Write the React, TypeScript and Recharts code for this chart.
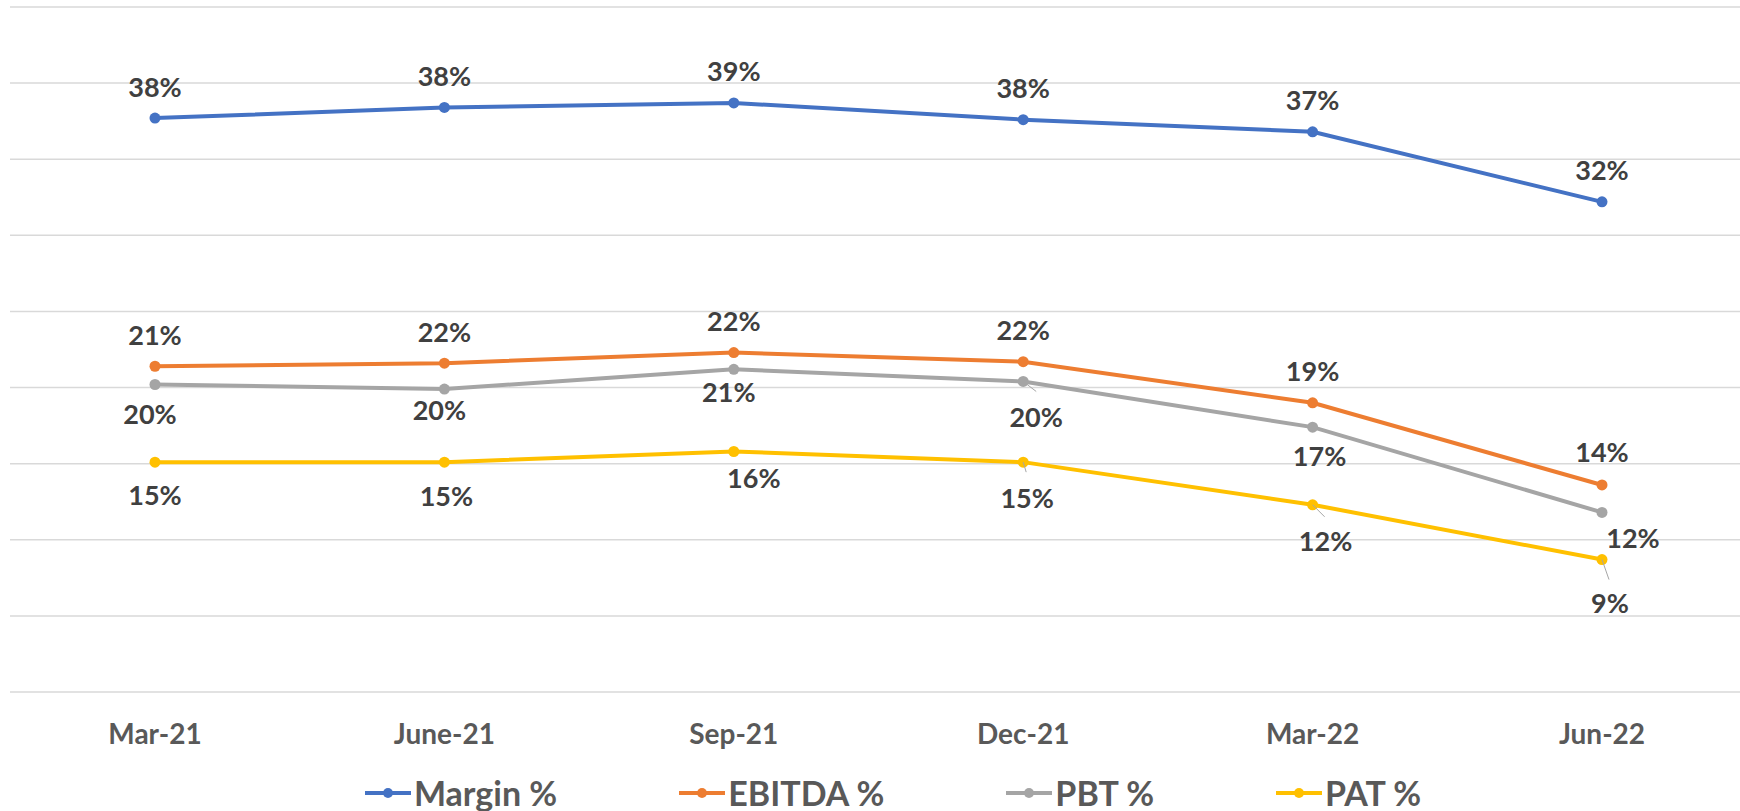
import React from 'react';
import { LineChart, Line, XAxis, YAxis, CartesianGrid, Legend, LabelList } from 'recharts';

const categories = ['Mar-21', 'June-21', 'Sep-21', 'Dec-21', 'Mar-22', 'Jun-22'];
const marginPct = [37.7, 38.4, 38.7, 37.6, 36.8, 32.2];
const ebitdaPct = [21.4, 21.6, 22.3, 21.7, 19.0, 13.6];
const pbtPct = [20.2, 19.9, 21.2, 20.4, 17.4, 11.8];
const patPct = [15.1, 15.1, 15.8, 15.1, 12.3, 8.7];
const yTicks = [0, 5, 10, 15, 20, 25, 30, 35, 40, 45];

const rows = categories.map((cat, i) => ({
  cat,
  margin: marginPct[i],
  ebitda: ebitdaPct[i],
  pbt: pbtPct[i],
  pat: patPct[i],
}));

const FONT = 'Lato, "Open Sans", sans-serif';

// label placement per point: [dx, dy, leaderDx, leaderDy] (leader = 0 means none)
type Place = [number, number, number, number];

const series: { key: string; name: string; color: string; places: Place[] }[] = [
  {
    key: 'margin', name: 'Margin %', color: '#4472C4',
    places: [[0, -32, 0, 0], [0, -32, 0, 0], [0, -32, 0, 0], [0, -32, 0, 0], [0, -32, 0, 0], [0, -32, 0, 0]],
  },
  {
    key: 'ebitda', name: 'EBITDA %', color: '#ED7D31',
    places: [[0, -32, 0, 0], [0, -32, 0, 0], [0, -32, 0, 0], [0, -32, 0, 0], [0, -32, 0, 0], [0, -33, 0, 0]],
  },
  {
    key: 'pbt', name: 'PBT %', color: '#A5A5A5',
    places: [[-5, 29, 0, 0], [-5, 20, 0, 0], [-5, 22, 0, 0], [13, 35, 13, 10], [7, 28, 0, 0], [31, 25, 0, 0]],
  },
  {
    key: 'pat', name: 'PAT %', color: '#FFC000',
    places: [[0, 32, 0, 0], [2, 33, 0, 0], [20, 26, 0, 0], [4, 35, 3, 10], [13, 36, 12, 12], [8, 43, 7, 20]],
  },
];

const makeLabel = (places: Place[]) => (props: any) => {
  const { x, y, value, index } = props;
  const [dx, dy, lx, ly] = places[index];
  return (
    <g>
      {(lx !== 0 || ly !== 0) && (
        <line x1={x} y1={y} x2={x + lx} y2={y + ly} stroke="#A6A6A6" strokeWidth={1} />
      )}
      <text
        x={x + dx}
        y={y + dy}
        textAnchor="middle"
        dominantBaseline="central"
        fill="#404040"
        fontFamily={FONT}
        fontWeight={700}
        fontSize={27}
      >
        {Math.round(value)}%
      </text>
    </g>
  );
};

const CategoryTick = (props: any) => {
  const { x, y, payload } = props;
  return (
    <text
      x={x}
      y={y + 41}
      textAnchor="middle"
      dominantBaseline="central"
      fill="#595959"
      fontFamily={FONT}
      fontWeight={700}
      fontSize={28}
    >
      {payload.value}
    </text>
  );
};

const LegendContent = () => (
  <div
    style={{
      height: 50,
      paddingLeft: 36,
      display: 'flex',
      justifyContent: 'center',
      alignItems: 'center',
      boxSizing: 'border-box',
      paddingTop: 13,
      gap: 122,
    }}
  >
    {series.map((s) => (
      <div key={s.key} style={{ display: 'flex', alignItems: 'center', gap: 3 }}>
        <svg width={46} height={14}>
          <line x1={0} y1={7} x2={46} y2={7} stroke={s.color} strokeWidth={4} />
          <circle cx={23} cy={7} r={5} fill={s.color} />
        </svg>
        <span
          style={{
            fontFamily: FONT,
            fontWeight: 700,
            fontSize: 34,
            color: '#595959',
            lineHeight: '36px',
            whiteSpace: 'nowrap',
          }}
        >
          {s.name}
        </span>
      </div>
    ))}
  </div>
);

const App: React.FC = () => {
  return (
    <div style={{ position: 'absolute', left: 0, top: 0, width: 1740, height: 811, background: '#ffffff' }}>
      <LineChart width={1740} height={811} data={rows} margin={{ top: 7, right: 0, left: 10, bottom: 0 }}>
        <CartesianGrid vertical={false} stroke="#D9D9D9" strokeWidth={1.5} />
        <XAxis
          dataKey="cat"
          axisLine={false}
          tickLine={false}
          tickSize={0}
          tickMargin={0}
          interval={0}
          height={69}
          padding={{ left: 145, right: 138 }}
          tick={<CategoryTick />}
        />
        <YAxis hide type="number" domain={[0, 45]} ticks={yTicks} />
        <Legend verticalAlign="bottom" height={50} content={<LegendContent />} />
        {series.map((s) => (
          <Line
            key={s.key}
            type="linear"
            dataKey={s.key}
            name={s.name}
            stroke={s.color}
            strokeWidth={4}
            dot={{ r: 5.5, fill: s.color, stroke: s.color, strokeWidth: 0 }}
            activeDot={false}
            isAnimationActive={false}
          >
            <LabelList dataKey={s.key} content={makeLabel(s.places)} />
          </Line>
        ))}
      </LineChart>
    </div>
  );
};

export default App;
